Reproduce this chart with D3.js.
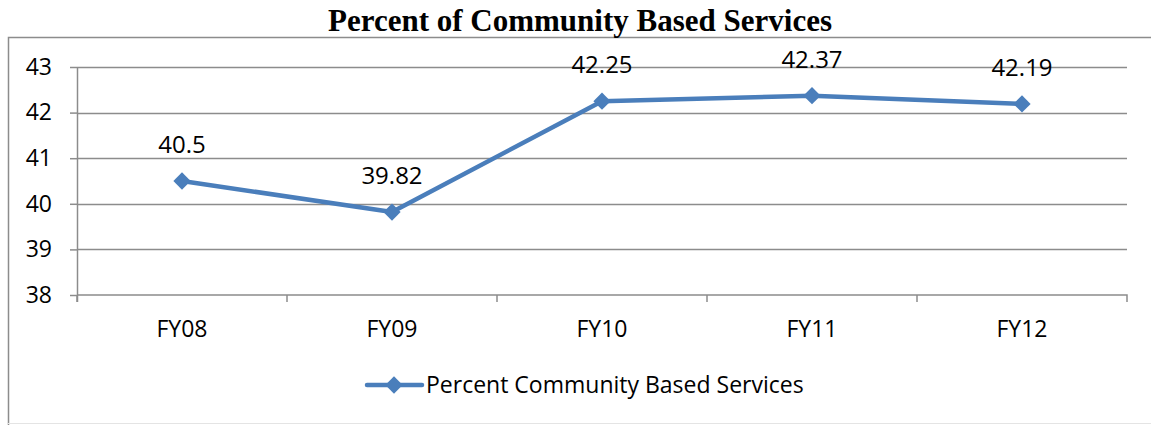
<!DOCTYPE html>
<html>
<head>
<meta charset="utf-8">
<script src="https://cdn.jsdelivr.net/npm/d3@7"></script>
<style>
  body { margin: 0; background: #fff; }
  text { font-family: "Open Sans", "Noto Sans", sans-serif; fill: #000; }
</style>
</head>
<body>
<script>
// chart data
var categories = ["FY08", "FY09", "FY10", "FY11", "FY12"]
var values = [40.5, 39.82, 42.25, 42.37, 42.19]
var valueLabels = ["40.5", "39.82", "42.25", "42.37", "42.19"]
var yTicks = [38, 39, 40, 41, 42, 43]
var seriesName = "Percent Community Based Services"
var title = "Percent of Community Based Services"

var width = 1151, height = 425
var margin = { top: 67, left: 77, right: 24, bottom: 130 }
var lineColor = "#4a7ebb"

var svg = d3.select("body").append("svg")
    .attr("width", width)
    .attr("height", height)

// outer frame
svg.append("path")
    .attr("d", "M8.5,425 V37.5 H1151")
    .style("fill", "none")
    .style("stroke", "#8c8c8c")
    .style("stroke-width", 1.5)
svg.append("line")
    .attr("x1", 8).attr("x2", 1151).attr("y1", 423.5).attr("y2", 423.5)
    .style("stroke", "#e4e4e4")

svg.append("text")
    .attr("x", 580).attr("y", 31)
    .attr("text-anchor", "middle")
    .style("font-family", "'Liberation Serif', 'DejaVu Serif', serif")
    .style("font-weight", "bold")
    .style("font-size", "31px")
    .text(title)

var xScale = d3.scaleBand()
    .domain(categories)
    .range([margin.left, width - margin.right])

var yScale = d3.scaleLinear()
    .domain([38, 43])
    .range([height - margin.bottom, margin.top])

// gridlines
svg.append("g")
    .selectAll("line")
    .data(yTicks.slice(1))
    .enter().append("line")
    .attr("x1", margin.left)
    .attr("x2", width - margin.right)
    .attr("y1", d => Math.round(yScale(d)) + 0.5)
    .attr("y2", d => Math.round(yScale(d)) + 0.5)
    .style("stroke", "#8c8c8c")
    .style("stroke-width", 1.5)

// y axis
var yAxis = d3.axisLeft(yScale).tickValues(yTicks).tickFormat(d3.format("d")).tickSize(7).tickPadding(18)
var gy = svg.append("g")
    .attr("transform", "translate(" + margin.left + ",0)")
    .call(yAxis)
    .attr("font-size", 23)
    .attr("font-family", "'Open Sans', sans-serif")
gy.select(".domain").attr("d", "M0.5," + yScale(43) + "V" + (yScale(38) + 7))

// x axis
var xAxis = d3.axisBottom(xScale).tickSize(0).tickPadding(26)
var gx = svg.append("g")
    .attr("transform", "translate(0," + yScale(38) + ")")
    .call(xAxis)
    .attr("font-size", 23)
    .attr("font-family", "'Open Sans', sans-serif")
gx.select(".domain").attr("d", "M" + margin.left + ",0H" + (width - margin.right) + "V7")
gx.append("g").selectAll("line")
    .data(categories)
    .enter().append("line")
    .attr("x1", d => xScale(d)).attr("x2", d => xScale(d))
    .attr("y1", 0).attr("y2", 7)

svg.selectAll(".domain, .tick line, g line")
    .style("stroke", "#8c8c8c")
    .style("stroke-width", 1.5)

// series line
var cx = d => xScale(d) + xScale.bandwidth() / 2
var line = d3.line()
    .x((d, i) => cx(categories[i]))
    .y(d => yScale(d))

svg.append("path")
    .datum(values)
    .attr("d", line)
    .style("fill", "none")
    .style("stroke", lineColor)
    .style("stroke-width", 4.5)
    .style("stroke-linejoin", "round")
    .style("stroke-linecap", "round")

var diamond = d3.symbol().type(d3.symbolDiamond2).size(190)

svg.selectAll(".pt")
    .data(values)
    .enter().append("path")
    .attr("class", "pt")
    .attr("d", diamond)
    .attr("transform", (d, i) => "translate(" + cx(categories[i]) + "," + yScale(d) + ")")
    .style("fill", lineColor)

svg.selectAll(".lbl")
    .data(values)
    .enter().append("text")
    .attr("class", "lbl")
    .attr("x", (d, i) => cx(categories[i]))
    .attr("y", d => yScale(d) - 28)
    .attr("text-anchor", "middle")
    .style("font-size", "24px")
    .text((d, i) => valueLabels[i])

// legend
var lg = svg.append("g").attr("transform", "translate(367,385)")
lg.append("line")
    .attr("x1", 0).attr("x2", 55).attr("y1", 0).attr("y2", 0)
    .style("stroke", lineColor)
    .style("stroke-width", 4.5)
    .style("stroke-linecap", "round")
lg.append("path")
    .attr("d", diamond)
    .attr("transform", "translate(27,0)")
    .style("fill", lineColor)
lg.append("text")
    .attr("x", 59).attr("y", 8)
    .style("font-size", "23px")
    .text(seriesName)
</script>
</body>
</html>
